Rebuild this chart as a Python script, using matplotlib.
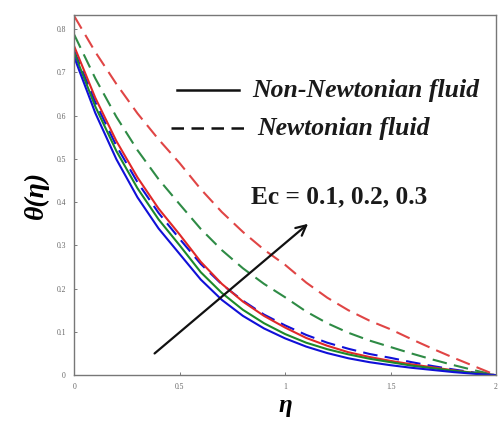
import numpy as np
import matplotlib
matplotlib.use("Agg")
import matplotlib.pyplot as plt

# similarity variable
eta = [0.0, 0.1, 0.2, 0.3, 0.4, 0.5, 0.6, 0.7, 0.8, 0.9, 1.0,
       1.1, 1.2, 1.3, 1.4, 1.5, 1.6, 1.7, 1.8, 1.9, 2.0]

# temperature profiles, non-Newtonian fluid (solid), Ec = 0.1, 0.2, 0.3
theta_nn_01 = [0.735, 0.606, 0.499, 0.411, 0.339, 0.280, 0.221, 0.174, 0.137, 0.108, 0.085,
               0.066, 0.051, 0.039, 0.030, 0.023, 0.017, 0.012, 0.007, 0.003, 0.0]
theta_nn_02 = [0.745, 0.621, 0.518, 0.432, 0.360, 0.300, 0.238, 0.190, 0.151, 0.120, 0.095,
               0.075, 0.060, 0.048, 0.038, 0.030, 0.022, 0.016, 0.010, 0.005, 0.0]
theta_nn_03 = [0.760, 0.641, 0.541, 0.457, 0.385, 0.325, 0.262, 0.211, 0.170, 0.137, 0.110,
               0.086, 0.068, 0.053, 0.042, 0.033, 0.025, 0.018, 0.011, 0.005, 0.0]

# Newtonian fluid (dashed)
theta_n_01 = [0.750, 0.631, 0.530, 0.446, 0.375, 0.315, 0.257, 0.210, 0.172, 0.140, 0.115,
              0.093, 0.075, 0.061, 0.049, 0.040, 0.030, 0.021, 0.013, 0.006, 0.0]
theta_n_02 = [0.787, 0.686, 0.597, 0.520, 0.453, 0.395, 0.338, 0.289, 0.247, 0.211, 0.180,
              0.147, 0.120, 0.098, 0.080, 0.065, 0.050, 0.036, 0.023, 0.011, 0.0]
theta_n_03 = [0.830, 0.747, 0.673, 0.605, 0.545, 0.490, 0.430, 0.377, 0.331, 0.290, 0.255,
              0.214, 0.179, 0.150, 0.126, 0.106, 0.083, 0.061, 0.040, 0.020, 0.0]

xticks = [0, 0.5, 1, 1.5, 2]
xticklabels = ["0", "0.5", "1", "1.5", "2"]
yticks = [0, 0.1, 0.2, 0.3, 0.4, 0.5, 0.6, 0.7, 0.8]
yticklabels = ["0", "0.1", "0.2", "0.3", "0.4", "0.5", "0.6", "0.7", "0.8"]

blue, green, red = "#1010d8", "#1c8a2a", "#e02828"
green_d, red_d = "#2e8b45", "#e04545"

plt.rcParams["font.family"] = ["Liberation Serif", "DejaVu Serif"]
fig = plt.figure(figsize=(4.98, 4.22), dpi=100)
ax = fig.add_axes([0.149, 0.111, 0.847, 0.853])

lw = 1.5
dash = (0, (7, 3.5))
ax.plot(eta, theta_n_01, color=blue, lw=lw, ls=dash)
ax.plot(eta, theta_n_02, color=green_d, lw=lw, ls=dash)
ax.plot(eta, theta_n_03, color=red_d, lw=lw, ls=dash)
ax.plot(eta, theta_nn_03, color=red, lw=lw)
ax.plot(eta, theta_nn_02, color=green, lw=lw)
ax.plot(eta, theta_nn_01, color=blue, lw=lw)

ax.set_xlim(0, 2)
ax.set_ylim(0, 0.832)
ax.set_xticks(xticks)
ax.set_xticklabels(xticklabels)
ax.set_yticks(yticks)
ax.set_yticklabels(yticklabels)
ax.tick_params(direction="in", length=2, width=0.6, labelsize=5.5,
               colors="#666666", pad=6)
for s in ax.spines.values():
    s.set_color("#777777")
    s.set_linewidth(1.0)

ax.set_xlabel("η", fontsize=18, fontweight="bold", fontstyle="italic", labelpad=2)
ax.set_ylabel("θ(η)", fontsize=20, fontweight="bold", fontstyle="italic", labelpad=5)

# key drawn inside the axes
ax.plot([0.486, 0.781], [0.659, 0.659], color="#111111", lw=1.8)
ax.plot([0.457, 0.819], [0.571, 0.571], color="#111111", lw=1.8, ls=(0, (5, 3)))
ax.text(0.843, 0.659, "Non-Newtonian fluid", fontsize=18.5, fontweight="bold",
        fontstyle="italic", va="center", ha="left", color="#1a1a1a")
ax.text(0.867, 0.571, "Newtonian fluid", fontsize=18.5, fontweight="bold",
        fontstyle="italic", va="center", ha="left", color="#1a1a1a")
ax.text(0.838, 0.412, "Ec = 0.1, 0.2, 0.3", fontsize=18.3, fontweight="bold",
        va="center", ha="left", color="#1a1a1a")
ax.annotate("", xy=(1.119, 0.354), xytext=(0.371, 0.046),
            arrowprops=dict(arrowstyle="->", color="#111111", lw=1.6,
                            mutation_scale=18))

fig.savefig("out.png", dpi=100)
